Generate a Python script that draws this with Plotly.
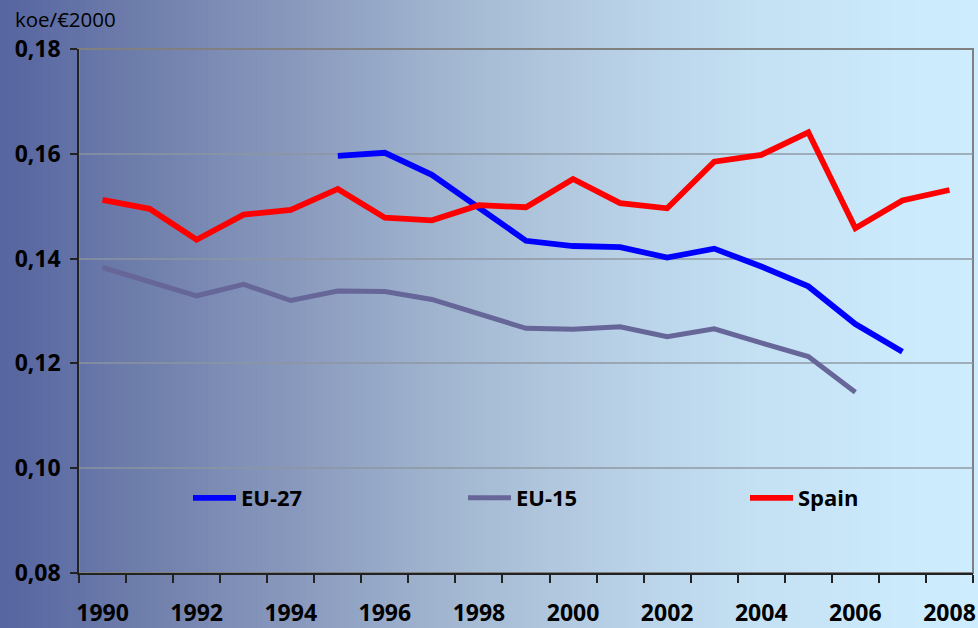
import plotly.graph_objects as go

years = list(range(1990, 2009))
eu27_years = list(range(1995, 2008))
eu27 = [0.1596, 0.1602, 0.1560, 0.1497, 0.1434, 0.1424, 0.1422, 0.1402, 0.1419,
        0.1385, 0.1347, 0.1275, 0.1222]
eu15_years = list(range(1990, 2007))
eu15 = [0.1383, 0.1355, 0.1329, 0.1351, 0.1320, 0.1338, 0.1337, 0.1322, 0.1294,
        0.1267, 0.1265, 0.1270, 0.1251, 0.1266, 0.1239, 0.1213, 0.1145]
spain = [0.1512, 0.1495, 0.1436, 0.1484, 0.1493, 0.1533, 0.1478, 0.1473, 0.1502,
         0.1498, 0.1552, 0.1506, 0.1496, 0.1585, 0.1598, 0.1641, 0.1458, 0.1511, 0.1531]
year_labels = [str(y) for y in range(1990, 2009, 2)]
y_ticks = [0.08, 0.10, 0.12, 0.14, 0.16, 0.18]
unit_label = "koe/€2000"

W, H = 978, 628
ML, MR, MT, MB = 79, 5, 49, 55
PW, PH = W - ML - MR, H - MT - MB

FONT = "Open Sans"
LEG_FONT = dict(family=FONT, size=22, color="#000000", weight="bold")

fig = go.Figure()
fig.add_trace(go.Scatter(x=eu27_years, y=eu27, name="EU-27", mode="lines",
                         line=dict(color="#0000FF", width=5.8), legend="legend"))
fig.add_trace(go.Scatter(x=eu15_years, y=eu15, name="EU-15", mode="lines",
                         line=dict(color="#666699", width=5), legend="legend2"))
fig.add_trace(go.Scatter(x=years, y=spain, name="Spain", mode="lines",
                         line=dict(color="#FF0000", width=5.8), legend="legend3"))

# background gradient (horizontal) built from thin strips
stops = [(0, (86, 100, 160)), (150, (112, 128, 172)), (300, (138, 154, 190)),
         (450, (162, 182, 208)), (600, (182, 206, 228)), (750, (196, 224, 243)),
         (900, (203, 234, 252)), (978, (205, 236, 254))]

def col_at(px):
    for (a, ca), (b, cb) in zip(stops[:-1], stops[1:]):
        if a <= px <= b:
            t = (px - a) / (b - a)
            return tuple(round(ca[i] + (cb[i] - ca[i]) * t) for i in range(3))
    return stops[-1][1]

shapes = []
N = 160
step = W / N
for i in range(N):
    p0 = i * step
    p1 = p0 + step + 1
    c = col_at(p0 + step / 2)
    shapes.append(dict(type="rect", xref="paper", yref="paper",
                       x0=(p0 - ML) / PW, x1=(p1 - ML) / PW,
                       y0=-MB / PH - 0.01, y1=(H - MB) / PH + 0.01,
                       line=dict(width=0), fillcolor="rgb(%d,%d,%d)" % c,
                       layer="below"))
shapes.append(dict(type="rect", xref="paper", yref="paper", x0=0, x1=1, y0=0, y1=1,
                   line=dict(color="#808080", width=2), layer="below"))
fig.update_layout(shapes=shapes)

leg_y = (H - MB - 498) / PH

def leg(px):
    return dict(orientation="h", x=(px - ML) / PW, xanchor="left",
                y=leg_y, yanchor="middle", bgcolor="rgba(0,0,0,0)",
                font=LEG_FONT, itemwidth=43)

fig.update_layout(
    width=W, height=H,
    margin=dict(l=ML, r=MR, t=MT, b=MB),
    paper_bgcolor="#cdeeff",
    plot_bgcolor="rgba(0,0,0,0)",
    separators=",.",
    font=dict(family=FONT, color="#000000"),
    showlegend=True,
    legend=leg(193 - 5),
    legend2=leg(468 - 5),
    legend3=leg(750 - 5),
    xaxis=dict(range=[1989.5, 2008.5], tickvals=list(range(1990, 2009, 2)),
               ticktext=year_labels, ticks="", showgrid=False, zeroline=False,
               showline=True, linecolor="#222222", linewidth=1.5,
               automargin=False,
               tickfont=dict(family=FONT, size=23, color="#000000", weight="bold"),
               ticklabelstandoff=19,
               minor=dict(tick0=1989.5, dtick=1, ticks="outside", ticklen=8,
                          tickcolor="#222222", tickwidth=1.5, showgrid=False)),
    yaxis=dict(range=[0.08, 0.18], tickvals=y_ticks, tickformat=".2f",
               ticks="outside", ticklen=7, tickcolor="#222222", tickwidth=1.5,
               showgrid=True, gridcolor="rgba(140,150,160,0.7)", gridwidth=1.5,
               zeroline=False, showline=True, linecolor="#222222", linewidth=1.5,
               automargin=False,
               tickfont=dict(family=FONT, size=23, color="#000000", weight="bold"),
               ticklabelstandoff=5),
    annotations=[dict(text=unit_label, xref="paper", yref="paper",
                      x=(13 - ML) / PW, xanchor="left",
                      y=(H - MB - 19) / PH, yanchor="middle", showarrow=False,
                      font=dict(family=FONT, size=20.5, color="#000000"))],
)

fig.write_html("out.html", config={"displayModeBar": False},
               post_script="document.body.style.margin='0';document.body.style.overflow='hidden';")
